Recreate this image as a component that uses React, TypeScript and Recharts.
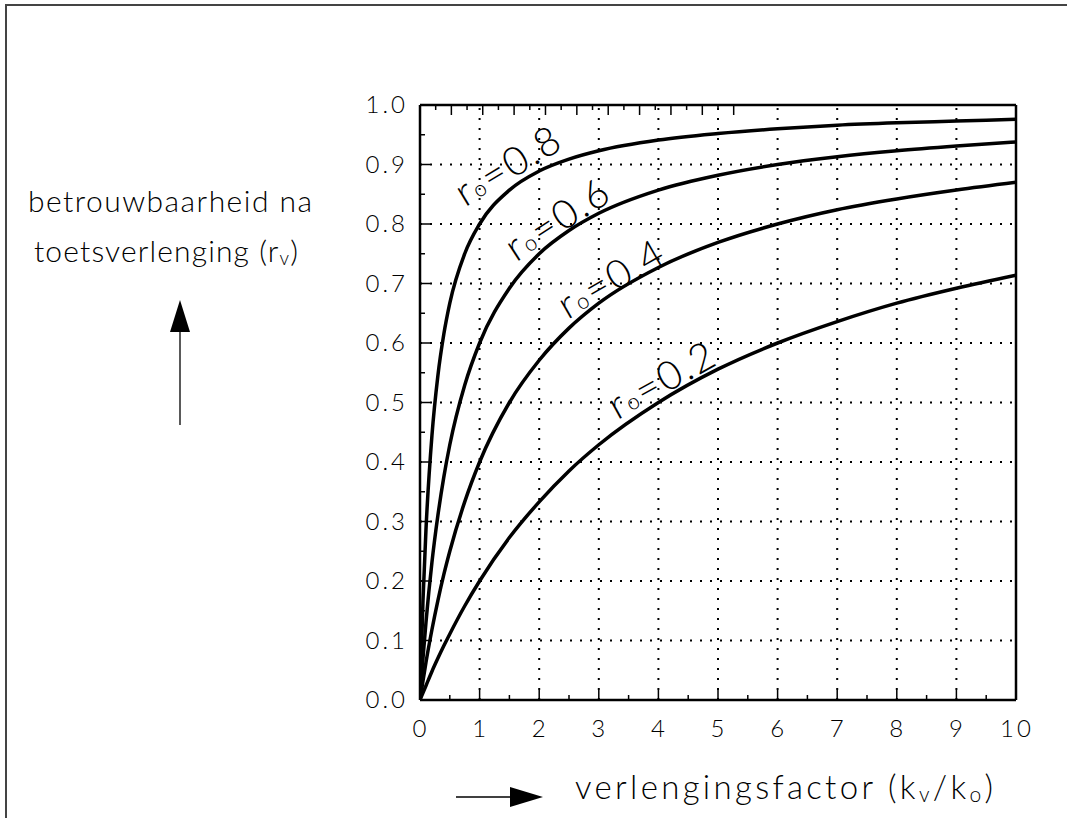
import React from 'react';
import { LineChart, Line, XAxis, YAxis, ReferenceLine, ReferenceDot } from 'recharts';

// verlengingsfactor k (kv/ko)
const kValues = [0, 0.05, 0.1, 0.2, 0.3, 0.4, 0.5, 0.75, 1, 1.5, 2, 2.5, 3, 4, 5, 6, 7, 8, 9, 10];
// betrouwbaarheid na toetsverlenging, per r0
const r08 = [0, 0.167, 0.286, 0.444, 0.545, 0.615, 0.667, 0.75, 0.8, 0.857, 0.889, 0.909, 0.923, 0.941, 0.952, 0.96, 0.966, 0.97, 0.973, 0.976];
const r06 = [0, 0.07, 0.13, 0.231, 0.31, 0.375, 0.429, 0.529, 0.6, 0.692, 0.75, 0.789, 0.818, 0.857, 0.882, 0.9, 0.913, 0.923, 0.931, 0.938];
const r04 = [0, 0.032, 0.063, 0.118, 0.167, 0.211, 0.25, 0.333, 0.4, 0.5, 0.571, 0.625, 0.667, 0.727, 0.769, 0.8, 0.824, 0.842, 0.857, 0.87];
const r02 = [0, 0.012, 0.024, 0.048, 0.07, 0.091, 0.111, 0.158, 0.2, 0.273, 0.333, 0.385, 0.429, 0.5, 0.556, 0.6, 0.636, 0.667, 0.692, 0.714];

const xTicks = [0, 0.5, 1, 1.5, 2, 2.5, 3, 3.5, 4, 4.5, 5, 5.5, 6, 6.5, 7, 7.5, 8, 8.5, 9, 9.5, 10];
const yTicks = [0, 0.05, 0.1, 0.15, 0.2, 0.25, 0.3, 0.35, 0.4, 0.45, 0.5, 0.55, 0.6, 0.65, 0.7, 0.75, 0.8, 0.85, 0.9, 0.95, 1];
const xGrid = [1, 2, 3, 4, 5, 6, 7, 8, 9];
const yGrid = [0.1, 0.2, 0.3, 0.4, 0.5, 0.6, 0.7, 0.8, 0.9];

const data = kValues.map((k, i) => ({ k, r08: r08[i], r06: r06[i], r04: r04[i], r02: r02[i] }));

const FONT = "Lato, 'Open Sans', sans-serif";
const isMajorX = (v: number) => Number.isInteger(v);
const isMajorY = (v: number) => Math.round(v * 100) % 10 === 0;

const BottomTick = (props: any) => {
  const { x, y, payload } = props;
  const major = isMajorX(payload.value);
  return (
    <g>
      <line x1={x} x2={x} y1={y} y2={y - (major ? 10 : 5)} stroke="#000" strokeWidth={1.5} />
      {major && (
        <text x={x + 1} y={y + 37} textAnchor="middle" fontSize={24} fontFamily={FONT} fontWeight={300} fill="#000" letterSpacing={3}>
          {payload.value}
        </text>
      )}
    </g>
  );
};

const TopTick = (props: any) => {
  const { x, y, payload } = props;
  const major = isMajorX(payload.value);
  return <line x1={x} x2={x} y1={y} y2={y + (major ? 10 : 5)} stroke="#000" strokeWidth={1.5} />;
};

const LeftTick = (props: any) => {
  const { x, y, payload } = props;
  const major = isMajorY(payload.value);
  return (
    <g>
      <line x1={x} x2={x + (major ? 10 : 5)} y1={y} y2={y} stroke="#000" strokeWidth={1.5} />
      {major && (
        <text x={x - 12} y={y + 8} textAnchor="end" fontSize={24} fontFamily={FONT} fontWeight={300} fill="#000" letterSpacing={3}>
          {payload.value.toFixed(1)}
        </text>
      )}
    </g>
  );
};

const RightTick = (props: any) => {
  const { x, y, payload } = props;
  const major = isMajorY(payload.value);
  return <line x1={x} x2={x - (major ? 10 : 5)} y1={y} y2={y} stroke="#000" strokeWidth={1.5} />;
};

const curveLabel = (value: string, angle: number) => (props: any) => {
  const { cx, cy } = props;
  return (
    <text
      x={cx}
      y={cy}
      transform={`rotate(${angle} ${cx} ${cy})`}
      textAnchor="middle"
      dominantBaseline="central"
      fontSize={40}
      fontFamily={FONT}
      fontWeight={300}
      fill="#000"
      letterSpacing={2}
    >
      r<tspan fontSize={22} dy={5}>o</tspan>
      <tspan dy={-5}>={value}</tspan>
    </text>
  );
};

const axisLine = { stroke: '#000', strokeWidth: 2.5 };

const App: React.FC = () => {
  return (
    <div style={{ position: 'absolute', left: 0, top: 0, width: 1067, height: 818, background: '#fff' }}>
      <div
        style={{
          position: 'absolute',
          left: 5,
          top: 4,
          width: 1062,
          height: 814,
          borderTop: '2px solid #444',
          borderLeft: '2px solid #444',
        }}
      />
      <div style={{ position: 'absolute', left: 0, top: 0 }}>
        <LineChart width={1067} height={818} data={data} margin={{ top: 0, right: 0, bottom: 0, left: 0 }}>
          <XAxis
            dataKey="k"
            type="number"
            domain={[0, 10]}
            ticks={xTicks}
            interval={0}
            height={118}
            tickSize={0}
            tickMargin={0}
            axisLine={axisLine}
            tickLine={false}
            tick={BottomTick}
            allowDataOverflow
          />
          <XAxis
            xAxisId="top"
            orientation="top"
            type="number"
            domain={[0, 10]}
            ticks={xTicks}
            interval={0}
            height={105}
            tickSize={0}
            tickMargin={0}
            axisLine={axisLine}
            tickLine={false}
            tick={TopTick}
          />
          <YAxis
            type="number"
            domain={[0, 1]}
            ticks={yTicks}
            interval={0}
            width={420}
            tickSize={0}
            tickMargin={0}
            axisLine={axisLine}
            tickLine={false}
            tick={LeftTick}
            allowDataOverflow
          />
          <YAxis
            yAxisId="right"
            orientation="right"
            type="number"
            domain={[0, 1]}
            ticks={yTicks}
            interval={0}
            width={51}
            tickSize={0}
            tickMargin={0}
            axisLine={axisLine}
            tickLine={false}
            tick={RightTick}
          />
          {xGrid.map((v) => (
            <ReferenceLine key={'x' + v} x={v} stroke="#000" strokeWidth={2} strokeDasharray="2 8" />
          ))}
          {yGrid.map((v) => (
            <ReferenceLine key={'y' + v} y={v} stroke="#000" strokeWidth={2} strokeDasharray="2 8" />
          ))}
          <Line type="monotone" dataKey="r08" stroke="#000" strokeWidth={3.5} dot={false} isAnimationActive={false} />
          <Line type="monotone" dataKey="r06" stroke="#000" strokeWidth={3.5} dot={false} isAnimationActive={false} />
          <Line type="monotone" dataKey="r04" stroke="#000" strokeWidth={3.5} dot={false} isAnimationActive={false} />
          <Line type="monotone" dataKey="r02" stroke="#000" strokeWidth={3.5} dot={false} isAnimationActive={false} />
          <ReferenceDot x={1.47} y={0.9} r={0} shape={curveLabel('0.8', -31)} />
          <ReferenceDot x={2.3} y={0.81} r={0} shape={curveLabel('0.6', -33)} />
          <ReferenceDot x={3.2} y={0.71} r={0} shape={curveLabel('0.4', -30)} />
          <ReferenceDot x={4.05} y={0.54} r={0} shape={curveLabel('0.2', -29)} />
        </LineChart>
      </div>
      <svg
        width={1067}
        height={818}
        style={{ position: 'absolute', left: 0, top: 0, pointerEvents: 'none' }}
        fontFamily={FONT}
        fontWeight={300}
      >
        <text x={170} y={212} textAnchor="middle" fontSize={30} textLength={284} lengthAdjust="spacing">
          betrouwbaarheid na
        </text>
        <text x={166} y={262} textAnchor="middle" fontSize={30} textLength={264} lengthAdjust="spacing">
          toetsverlenging (r<tspan fontSize={19} dy={3}>v</tspan><tspan dy={-3}>)</tspan>
        </text>
        <line x1={180} x2={180} y1={330} y2={425} stroke="#000" strokeWidth={1.3} />
        <polygon points="180,300 170,332 190,332" fill="#000" />
        <line x1={456} x2={512} y1={797} y2={797} stroke="#000" strokeWidth={1.3} />
        <polygon points="543,797 510,787 510,807" fill="#000" />
        <text x={575} y={799} fontSize={33} textLength={418} lengthAdjust="spacing">
          verlengingsfactor (k<tspan fontSize={21} dy={3}>v</tspan>
          <tspan dy={-3}>/k</tspan>
          <tspan fontSize={21} dy={3}>o</tspan>
          <tspan dy={-3}>)</tspan>
        </text>
      </svg>
    </div>
  );
};

export default App;
